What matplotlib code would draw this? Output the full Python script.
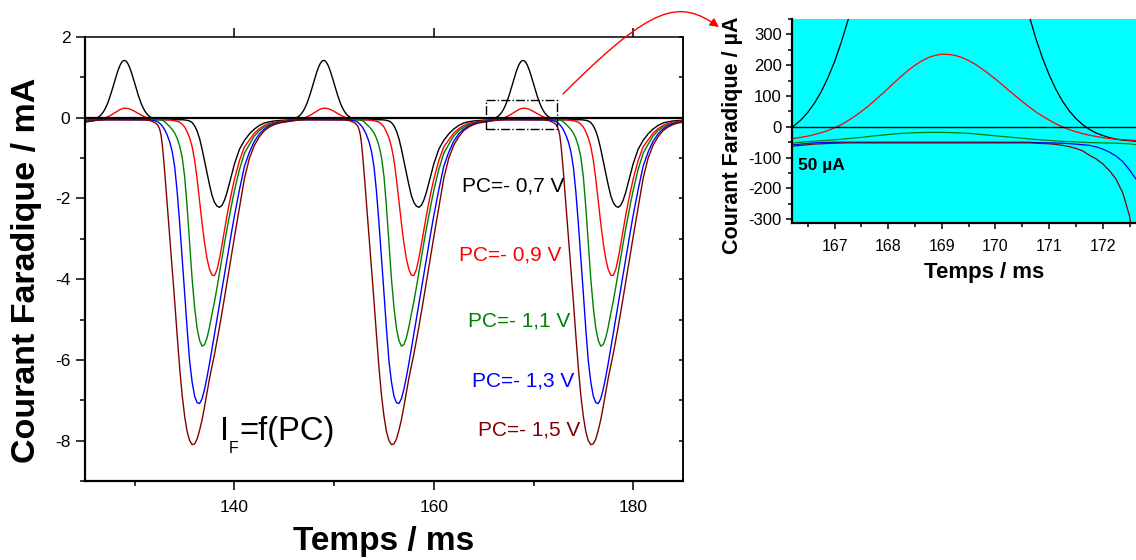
## plot.py
## Faradaic current vs time for several PC potentials, with a zoomed inset
## around the small anodic peak near 169 ms.

import numpy as np
import matplotlib
matplotlib.use('Agg')
import matplotlib.pyplot as plt
from matplotlib.path import Path
from matplotlib.patches import FancyArrowPatch, Rectangle
from matplotlib.ticker import MultipleLocator

plt.rcParams['font.family'] = ['Liberation Sans', 'DejaVu Sans']
plt.rcParams['axes.unicode_minus'] = False

## one period of the signal (ms); the pattern repeats every 20 ms
## (finer steps between 126 and 133 ms, the zone shown in the inset)
t_period = [125.0, 125.5,
            126.0, 126.125, 126.25, 126.375, 126.5, 126.625, 126.75, 126.875,
            127.0, 127.125, 127.25, 127.375, 127.5, 127.625, 127.75, 127.875,
            128.0, 128.125, 128.25, 128.375, 128.5, 128.625, 128.75, 128.875,
            129.0, 129.125, 129.25, 129.375, 129.5, 129.625, 129.75, 129.875,
            130.0, 130.125, 130.25, 130.375, 130.5, 130.625, 130.75, 130.875,
            131.0, 131.125, 131.25, 131.375, 131.5, 131.625, 131.75, 131.875,
            132.0, 132.125, 132.25, 132.375, 132.5, 132.625, 132.75, 132.875,
            133.0, 133.25, 133.5, 133.75, 134.0, 134.25, 134.5, 134.75,
            135.0, 135.25, 135.5, 135.75, 136.0, 136.25, 136.5, 136.75,
            137.0, 137.25, 137.5, 137.75, 138.0, 138.25, 138.5, 138.75,
            139.0, 139.25, 139.5, 139.75, 140.0, 140.5, 141.0, 141.5,
            142.0, 142.5, 143.0, 143.5, 144.0, 144.5, 145.0]
period_offsets = [0, 20, 40]

## current in mA
i_07 = [-0.060, -0.055,
        -0.025, -0.012, 0.004, 0.023, 0.047, 0.077, 0.114, 0.159,
        0.212, 0.275, 0.346, 0.427, 0.517, 0.613, 0.715, 0.820,
        0.926, 1.030, 1.127, 1.215, 1.291, 1.351, 1.394, 1.416,
        1.418, 1.400, 1.361, 1.304, 1.232, 1.146, 1.050, 0.947,
        0.842, 0.736, 0.633, 0.535, 0.445, 0.362, 0.288, 0.224,
        0.169, 0.122, 0.083, 0.052, 0.027, 0.007, -0.008, -0.020,
        -0.028, -0.035, -0.040, -0.043, -0.045, -0.047, -0.048, -0.049,
        -0.050, -0.050, -0.050, -0.050, -0.050, -0.050, -0.050, -0.050,
        -0.055, -0.065, -0.080, -0.120, -0.200, -0.330, -0.520, -0.780,
        -1.080, -1.380, -1.670, -1.930, -2.100, -2.190, -2.220, -2.170,
        -2.040, -1.850, -1.620, -1.380, -1.140, -0.780, -0.560, -0.400,
        -0.280, -0.190, -0.130, -0.100, -0.080, -0.070, -0.060]
i_09 = [-0.080, -0.065,
        -0.046, -0.041, -0.037, -0.034, -0.030, -0.025, -0.019, -0.012,
        -0.003, 0.007, 0.020, 0.034, 0.050, 0.067, 0.086, 0.105,
        0.125, 0.146, 0.165, 0.184, 0.200, 0.214, 0.225, 0.232,
        0.236, 0.235, 0.232, 0.225, 0.215, 0.203, 0.188, 0.172,
        0.155, 0.137, 0.118, 0.100, 0.082, 0.065, 0.049, 0.035,
        0.022, 0.010, 0.000, -0.009, -0.016, -0.022, -0.027, -0.031,
        -0.035, -0.038, -0.040, -0.042, -0.043, -0.044, -0.045, -0.046,
        -0.047, -0.050, -0.055, -0.065, -0.075, -0.090, -0.110, -0.160,
        -0.230, -0.350, -0.500, -0.720, -1.050, -1.520, -2.080, -2.620,
        -3.110, -3.500, -3.760, -3.900, -3.910, -3.760, -3.480, -3.140,
        -2.780, -2.420, -2.100, -1.800, -1.520, -1.060, -0.720, -0.550,
        -0.380, -0.270, -0.190, -0.140, -0.110, -0.090, -0.080]
i_11 = [-0.090, -0.075,
        -0.060, -0.056, -0.052, -0.050, -0.048, -0.0465, -0.045, -0.0435,
        -0.042, -0.040, -0.038, -0.036, -0.034, -0.0315, -0.029, -0.027,
        -0.025, -0.023, -0.021, -0.020, -0.019, -0.0185, -0.018, -0.018,
        -0.018, -0.0185, -0.019, -0.020, -0.021, -0.023, -0.025, -0.027,
        -0.029, -0.031, -0.033, -0.035, -0.037, -0.039, -0.041, -0.0425,
        -0.044, -0.0455, -0.047, -0.048, -0.049, -0.050, -0.051, -0.0515,
        -0.052, -0.0525, -0.053, -0.054, -0.055, -0.058, -0.065, -0.080,
        -0.100, -0.160, -0.220, -0.290, -0.380, -0.510, -0.700, -0.980,
        -1.460, -2.220, -3.110, -4.000, -4.700, -5.220, -5.520, -5.660,
        -5.620, -5.450, -5.180, -4.850, -4.550, -4.200, -3.830, -3.460,
        -3.100, -2.750, -2.420, -2.100, -1.800, -1.280, -0.880, -0.660,
        -0.450, -0.320, -0.230, -0.170, -0.130, -0.100, -0.090]
i_13 = [-0.100, -0.080,
        -0.065, -0.061, -0.058, -0.056, -0.054, -0.052, -0.051, -0.0505,
        -0.050, -0.050, -0.050, -0.050, -0.050, -0.050, -0.050, -0.050,
        -0.050, -0.050, -0.050, -0.050, -0.050, -0.050, -0.050, -0.050,
        -0.050, -0.050, -0.050, -0.050, -0.050, -0.050, -0.050, -0.050,
        -0.050, -0.050, -0.050, -0.050, -0.050, -0.050, -0.051, -0.0515,
        -0.052, -0.0525, -0.053, -0.0545, -0.056, -0.058, -0.060, -0.065,
        -0.072, -0.082, -0.095, -0.113, -0.140, -0.170, -0.205, -0.250,
        -0.300, -0.430, -0.600, -0.840, -1.220, -1.840, -2.620, -3.480,
        -4.350, -5.240, -6.030, -6.550, -6.900, -7.060, -7.080, -6.960,
        -6.720, -6.420, -6.080, -5.720, -5.350, -4.980, -4.600, -4.230,
        -3.860, -3.490, -3.120, -2.770, -2.420, -1.780, -1.200, -0.850,
        -0.580, -0.400, -0.280, -0.200, -0.150, -0.120, -0.100]
i_15 = [-0.110, -0.090,
        -0.070, -0.066, -0.062, -0.060, -0.058, -0.056, -0.055, -0.054,
        -0.053, -0.0525, -0.052, -0.052, -0.052, -0.052, -0.052, -0.052,
        -0.052, -0.052, -0.052, -0.052, -0.052, -0.052, -0.052, -0.052,
        -0.052, -0.052, -0.052, -0.052, -0.052, -0.052, -0.052, -0.052,
        -0.052, -0.052, -0.052, -0.052, -0.052, -0.052, -0.053, -0.054,
        -0.055, -0.057, -0.060, -0.064, -0.070, -0.078, -0.092, -0.104,
        -0.120, -0.142, -0.170, -0.215, -0.290, -0.420, -0.660, -0.980,
        -1.350, -2.150, -2.950, -3.750, -4.550, -5.400, -6.200, -6.880,
        -7.400, -7.780, -8.000, -8.100, -8.080, -7.960, -7.740, -7.480,
        -7.150, -6.800, -6.450, -6.150, -5.850, -5.520, -5.180, -4.820,
        -4.450, -4.080, -3.700, -3.320, -2.950, -2.220, -1.500, -1.000,
        -0.680, -0.470, -0.320, -0.230, -0.170, -0.130, -0.110]

pc_labels = ["PC=- 0,7 V", "PC=- 0,9 V", "PC=- 1,1 V", "PC=- 1,3 V", "PC=- 1,5 V"]
label_x = [162.8, 162.5, 163.4, 163.8, 164.4]
label_y = [-1.84, -3.53, -5.18, -6.65, -7.88]
colors = ['black', '#FF0000', '#008000', '#0000FF', '#800000']

currents = [i_07, i_09, i_11, i_13, i_15]
t = np.concatenate([np.array(t_period) + off for off in period_offsets])

W, H = 1136, 560
fig = plt.figure(figsize=(W / 100, H / 100), dpi=100)

## ---------------- main plot ----------------
ax = fig.add_axes([85 / W, 1 - 481 / H, 598 / W, 444 / H])
for cur, col in zip(currents, colors):
    y = np.concatenate([np.array(cur) for off in period_offsets])
    ax.plot(t, y, color=col, lw=1.0)
ax.axhline(0, color='black', lw=1.6, zorder=4)

ax.set_xlim(125, 185)
ax.set_ylim(-9, 2)
ax.xaxis.set_major_locator(MultipleLocator(20))
ax.xaxis.set_minor_locator(MultipleLocator(10))
ax.yaxis.set_major_locator(MultipleLocator(2))
ax.yaxis.set_minor_locator(MultipleLocator(1))
ax.tick_params(which='both', direction='out', width=1.1, labelsize=12.5)
ax.tick_params(which='major', length=6.5)
ax.tick_params(which='minor', length=3.6)
ax.tick_params(axis='x', top=True, labeltop=False, pad=7)
ax.tick_params(axis='y', right=False, pad=4)
for s in ['left', 'bottom']:
    ax.spines[s].set_linewidth(1.6)
for s in ['top', 'right']:
    ax.spines[s].set_linewidth(1.1)

## inward ticks on the right side
sec = ax.secondary_yaxis('right')
sec.yaxis.set_major_locator(MultipleLocator(1))
sec.tick_params(direction='in', length=3, width=1.1, labelright=False)
sec.spines['right'].set_linewidth(1.1)

for s, x, y, c in zip(pc_labels, label_x, label_y, colors):
    ax.text(x, y, s, color=c, fontsize=15, ha='left', va='baseline')

ax.text(138.5, -7.98, "I", fontsize=23.5, ha='left', va='baseline')
ax.text(139.4, -8.30, "F", fontsize=11.5, ha='left', va='baseline')
ax.text(140.5, -7.98, "=f(PC)", fontsize=23.5, ha='left', va='baseline')

## dash-dot box marking the zoomed zone
ax.add_patch(Rectangle((165.23, -0.29), 7.1, 0.72, fill=False, ls='-.',
                       lw=1.0, color='black', zorder=5))

fig.text(27 / W, 1 - 270 / H, "Courant Faradique / mA", rotation=90,
         ha='center', va='center', fontsize=24.5, weight='bold')
fig.text(384 / W, 1 - 550 / H, "Temps / ms", ha='center', va='baseline',
         fontsize=24, weight='bold')

## ---------------- inset ----------------
ax2 = fig.add_axes([791.7 / W, 1 - 223 / H, (W - 791.7) / W, 204 / H])
ax2.set_facecolor('#00FFFF')
for cur, col in zip(currents, colors):
    y = np.concatenate([np.array(cur) * 1000 for off in period_offsets])
    ax2.plot(t, y, color=col, lw=0.9)
ax2.axhline(0, color='black', lw=1.0)
ax2.set_xlim(166.2, 172.62)
ax2.set_ylim(-312, 350)
ax2.xaxis.set_major_locator(MultipleLocator(1))
ax2.xaxis.set_minor_locator(MultipleLocator(0.5))
ax2.yaxis.set_major_locator(MultipleLocator(100))
ax2.yaxis.set_minor_locator(MultipleLocator(50))
ax2.tick_params(which='both', direction='out', width=1.1)
ax2.tick_params(which='major', length=4.5)
ax2.tick_params(which='minor', length=3)
ax2.tick_params(axis='x', labelsize=11.5, pad=7)
ax2.tick_params(axis='y', labelsize=12, pad=2.5)
ax2.spines['top'].set_visible(False)
ax2.spines['right'].set_visible(False)
ax2.spines['left'].set_linewidth(1.6)
ax2.spines['bottom'].set_linewidth(1.6)
ax2.text(166.32, -141, "50 µA", fontsize=12.5, weight='bold', va='baseline')

fig.text(733 / W, 1 - 135 / H, "Courant Faradique / µA", rotation=90,
         ha='center', va='center', fontsize=15.5, weight='bold')
fig.text(984 / W, 1 - 278 / H, "Temps / ms", ha='center', va='baseline',
         fontsize=16, weight='bold')

## red curved arrow from the box to the inset
p0 = (563 / W, 466 / H)
p1 = (653 / W, 556 / H)
p2 = (679 / W, 561 / H)
p3 = (719 / W, 533 / H)
arc = Path([p0, p1, p2, p3], [Path.MOVETO, Path.CURVE4, Path.CURVE4, Path.CURVE4])
arrow = FancyArrowPatch(path=arc, transform=fig.transFigure, arrowstyle='-|>',
                        mutation_scale=13, color='#FF0000', lw=1.0, zorder=10)
fig.add_artist(arrow)

fig.savefig('out.png', dpi=100)
